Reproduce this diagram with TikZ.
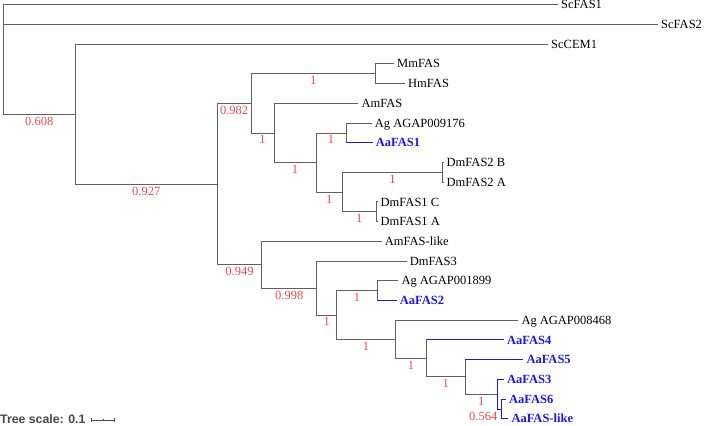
\documentclass[tikz,border=0pt]{standalone}
\usepackage{fontspec}
\setmainfont{Liberation Serif}
\newfontfamily\scalesans{Liberation Sans}
\usetikzlibrary{calc}
\definecolor{branchgray}{RGB}{96,96,96}
\definecolor{supportred}{RGB}{236,72,72}
\definecolor{aablue}{RGB}{24,24,232}
\definecolor{scalegray}{RGB}{72,72,72}

\begin{document}
\begin{tikzpicture}[
    x=1pt, y=-1pt,
    branch/.style={draw=branchgray, line width=0.9pt},
    aabranch/.style={draw=aablue, line width=0.9pt},
    leaf/.style={anchor=west, inner xsep=3pt, inner ysep=0pt, text height=8.2pt, text depth=0pt, font=\fontsize{12.5}{14}\selectfont},
    aaleaf/.style={leaf, font=\fontsize{12.5}{14}\selectfont\bfseries, text=aablue},
    support/.style={anchor=north, inner sep=0pt, yshift=-2.5pt, font=\fontsize{12.5}{14}\selectfont, text=supportred}
]
    \useasboundingbox (0,0) rectangle (708,425);

    % Internal nodes
    \coordinate (root) at (3.3, 59.5);
    \coordinate (n608) at (75.3, 114.2);
    \coordinate (n927) at (217.3, 184.2);
    \coordinate (n982) at (251, 103.4);
    \coordinate (nMm) at (375.7, 73.8);
    \coordinate (nAm) at (274, 133);
    \coordinate (nAgDm) at (316, 162.5);
    \coordinate (nAa1) at (346, 133);
    \coordinate (nDm) at (342.3, 192.1);
    \coordinate (nDm2) at (442.5, 172.4);
    \coordinate (nDm1) at (376, 211.8);
    \coordinate (n949) at (261.7, 264.7);
    \coordinate (n998) at (316.7, 288);
    \coordinate (nAgAa) at (336.7, 315);
    \coordinate (nAa2) at (377.3, 290.7);
    \coordinate (nAg8468) at (395.3, 339.3);
    \coordinate (nAa4) at (426.7, 358.4);
    \coordinate (nAa5) at (465, 376.9);
    \coordinate (nAa3) at (497.5, 394.1);
    \coordinate (n564) at (501, 409);

    % Leaves
    \node[leaf] (ScFAS1) at (558, 4.7) {ScFAS1};
    \node[leaf] (ScFAS2) at (658, 24.4) {ScFAS2};
    \node[leaf] (ScCEM1) at (548, 44.2) {ScCEM1};
    \node[leaf] (MmFAS) at (394, 63.9) {MmFAS};
    \node[leaf] (HmFAS) at (405, 83.6) {HmFAS};
    \node[leaf] (AmFAS) at (358.3, 103.4) {AmFAS};
    \node[leaf] (Ag9176) at (371.7, 123.1) {Ag AGAP009176};
    \node[aaleaf] (AaFAS1) at (372.7, 142.8) {AaFAS1};
    \node[leaf] (DmFAS2B) at (443.5, 162.5) {DmFAS2 B};
    \node[leaf] (DmFAS2A) at (443.5, 182.2) {DmFAS2 A};
    \node[leaf] (DmFAS1C) at (377.5, 201.9) {DmFAS1 C};
    \node[leaf] (DmFAS1A) at (377.5, 221.6) {DmFAS1 A};
    \node[leaf] (AmFASlike) at (381.7, 241.4) {AmFAS-like};
    \node[leaf] (DmFAS3) at (406.7, 261.1) {DmFAS3};
    \node[leaf] (Ag1899) at (398.3, 280.8) {Ag AGAP001899};
    \node[aaleaf] (AaFAS2) at (396.7, 300.5) {AaFAS2};
    \node[leaf] (Ag8468) at (518.3, 320.2) {Ag AGAP008468};
    \node[aaleaf] (AaFAS4) at (504, 339.9) {AaFAS4};
    \node[aaleaf] (AaFAS5) at (523.3, 359.6) {AaFAS5};
    \node[aaleaf] (AaFAS3) at (504, 379.3) {AaFAS3};
    \node[aaleaf] (AaFAS6) at (506, 399.1) {AaFAS6};
    \node[aaleaf] (AaFASlike) at (508.3, 418.8) {AaFAS-like};

    % Branches
    \foreach \p/\c in {root/n608, n608/n927, n927/n982, n982/nMm, n982/nAm, nAm/nAgDm,
                       nAgDm/nAa1, nAgDm/nDm, nDm/nDm2, nDm/nDm1, n927/n949, n949/n998,
                       n998/nAgAa, nAgAa/nAa2, nAgAa/nAg8468, nAg8468/nAa4, nAa4/nAa5, nAa5/nAa3}
        \draw[branch] (\p) |- (\c);
    \foreach \p/\c in {root/ScFAS1, root/ScFAS2, n608/ScCEM1, nMm/MmFAS, nMm/HmFAS, nAm/AmFAS,
                       nAa1/Ag9176, nAa1/AaFAS1, nDm2/DmFAS2B, nDm2/DmFAS2A, nDm1/DmFAS1C,
                       nDm1/DmFAS1A, n949/AmFASlike, n998/DmFAS3, nAa2/Ag1899, nAa2/AaFAS2,
                       nAg8468/Ag8468, nAa4/AaFAS4, nAa5/AaFAS5}
        \draw[branch] (\p) |- (\c.west);

    % Aedes branches in blue
    \foreach \p/\c in {nAa1/AaFAS1, nAa2/AaFAS2, nAa4/AaFAS4, nAa5/AaFAS5}
        \draw[aabranch] (\p |- \c.west) -- (\c.west);
    \draw[aabranch] (nAa3) |- (AaFAS3.west);
    \draw[aabranch] (nAa3) |- (n564);
    \draw[aabranch] (n564) |- (AaFAS6.west);
    \draw[aabranch] (n564) |- (AaFASlike.west);

    % Support values
    \foreach \p/\c/\v in {root/n608/0.608, n608/n927/0.927, n927/n982/0.982, n982/nMm/1,
                          n982/nAm/1, nAm/nAgDm/1, nAgDm/nAa1/1, nAgDm/nDm/1, nDm/nDm2/1,
                          nDm/nDm1/1, n927/n949/0.949, n949/n998/0.998, n998/nAgAa/1,
                          nAgAa/nAa2/1, nAgAa/nAg8468/1, nAg8468/nAa4/1, nAa4/nAa5/1, nAa5/nAa3/1}
        \node[support] (s\c) at ($(\p |- \c)!0.5!(\c)$) {\v};
    \node[support, anchor=north east] (s564) at (nAa3 |- n564) {0.564};

    % Tree scale
    \node[font=\scalesans\bfseries\fontsize{12.3}{14}\selectfont, text=scalegray, anchor=base west, inner sep=0pt] (scalelabel) at (0, 423.3) {Tree scale: 0.1};
    \coordinate (barL) at (91.7, 420);
    \coordinate (barR) at (114.3, 420);
    \draw[scalegray, line width=0.8pt] (barL) -- (barR);
    \draw[scalegray, line width=0.8pt] (barL) ++(0,-2.2) -- ++(0,4.4);
    \draw[scalegray, line width=0.8pt] (barR) ++(0,-2.2) -- ++(0,4.4);
    \draw[scalegray, line width=0.6pt] ($(barL)!0.5!(barR)$) ++(0,-1.2) -- ++(0,2.4);
\end{tikzpicture}
\end{document}
